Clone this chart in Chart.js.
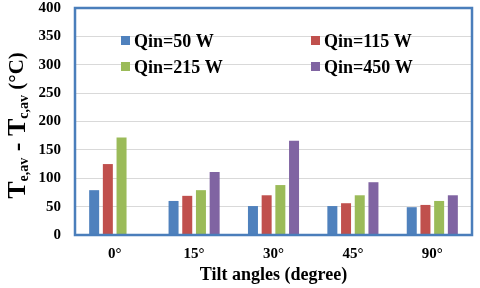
<!DOCTYPE html>
<html>
<head>
<meta charset="utf-8">
<script src="https://cdn.jsdelivr.net/npm/chart.js@4"></script>
<style>
  html, body { margin: 0; padding: 0; background: #fff; }
  #wrap { width: 480px; height: 288px; }
</style>
</head>
<body>
<div id="wrap"><canvas id="tiltChart" width="480" height="288"></canvas></div>
<script>
// Tilt angle categories
const tiltAngles = ["0°", "15°", "30°", "45°", "90°"];

// Te,av - Tc,av per heat input (°C)
const qin50 = [79, 60, 51, 51, 49];
const qin115 = [125, 69, 70, 56, 53];
const qin215 = [172, 79, 88, 70, 60];
const qin450 = [null, 111, 166, 93, 70];

const seriesLabels = ["Qin=50 W", "Qin=115 W", "Qin=215 W", "Qin=450 W"];
const seriesColors = ["#4F81BD", "#C0504D", "#9BBB59", "#8064A2"];

const yTicks = [0, 50, 100, 150, 200, 250, 300, 350, 400];

const serif = "'Liberation Serif', 'Times New Roman', serif";

// Blue frame round the plot area
const framePlugin = {
  id: "frame",
  afterDatasetsDraw(chart) {
    const { ctx, chartArea: a } = chart;
    ctx.save();
    ctx.strokeStyle = "#4A7EBB";
    ctx.lineWidth = 2.5;
    ctx.strokeRect(a.left, a.top, a.right - a.left, a.bottom - a.top);
    ctx.restore();
  }
};

// Legend inside the plot, 2 x 2
const legendPlugin = {
  id: "innerLegend",
  afterDraw(chart) {
    const { ctx } = chart;
    const cols = [121, 311];
    const rows = [41, 67];
    ctx.save();
    ctx.font = "bold 18px " + serif;
    ctx.textBaseline = "middle";
    seriesLabels.forEach((lbl, i) => {
      const x = cols[i % 2];
      const y = rows[Math.floor(i / 2)];
      ctx.fillStyle = seriesColors[i];
      ctx.fillRect(x, y - 5, 9, 9);
      ctx.fillStyle = "#000";
      ctx.fillText(lbl, x + 13, y + 1);
    });
    ctx.restore();
  }
};

// Y axis title with subscripts
const yTitlePlugin = {
  id: "yTitle",
  afterDraw(chart) {
    const { ctx, chartArea: a } = chart;
    const parts = [
      ["T", 26, 0], ["e,av", 14, 6], [" - ", 26, 0],
      ["T", 26, 0], ["c,av", 14, 6], [" (°C)", 21, 0]
    ];
    ctx.save();
    let total = 0;
    parts.forEach(p => {
      ctx.font = "bold " + p[1] + "px " + serif;
      total += ctx.measureText(p[0]).width;
    });
    ctx.translate(18, (a.top + a.bottom) / 2 + 4);
    ctx.rotate(-Math.PI / 2);
    ctx.textBaseline = "middle";
    ctx.fillStyle = "#000";
    let x = -total / 2;
    parts.forEach(p => {
      ctx.font = "bold " + p[1] + "px " + serif;
      ctx.fillText(p[0], x, p[2]);
      x += ctx.measureText(p[0]).width;
    });
    ctx.restore();
  }
};

const ctx = document.getElementById("tiltChart").getContext("2d");
new Chart(ctx, {
  type: "bar",
  data: {
    labels: tiltAngles,
    datasets: [qin50, qin115, qin215, qin450].map((d, i) => ({
      label: seriesLabels[i],
      data: d,
      backgroundColor: seriesColors[i],
      barPercentage: 0.73,
      categoryPercentage: 0.69
    }))
  },
  options: {
    responsive: false,
    animation: false,
    layout: { padding: { top: 8, right: 8, left: 0, bottom: 0 } },
    plugins: {
      legend: { display: false },
      tooltip: { enabled: false }
    },
    scales: {
      x: {
        grid: { display: false, drawTicks: false },
        border: { display: false },
        ticks: {
          color: "#000",
          padding: 10,
          font: { family: serif, size: 15, weight: "bold" }
        },
        title: {
          display: true,
          text: "Tilt angles (degree)",
          color: "#000",
          padding: { top: 6, bottom: 2 },
          font: { family: serif, size: 18, weight: "bold" }
        },
        afterFit(scale) {
          scale.height = 53;
          scale.paddingLeft = 0;
          scale.paddingRight = 0;
        }
      },
      y: {
        min: 0,
        max: 400,
        afterBuildTicks(scale) { scale.ticks = yTicks.map(v => ({ value: v })); },
        grid: { color: "#D9D9D9", drawTicks: false },
        border: { display: false },
        ticks: {
          color: "#000",
          padding: 14,
          font: { family: serif, size: 15, weight: "bold" }
        },
        afterFit(scale) {
          scale.width = 75;
          scale.paddingTop = 0;
          scale.paddingBottom = 0;
        }
      }
    }
  },
  plugins: [framePlugin, legendPlugin, yTitlePlugin]
});
</script>
</body>
</html>
